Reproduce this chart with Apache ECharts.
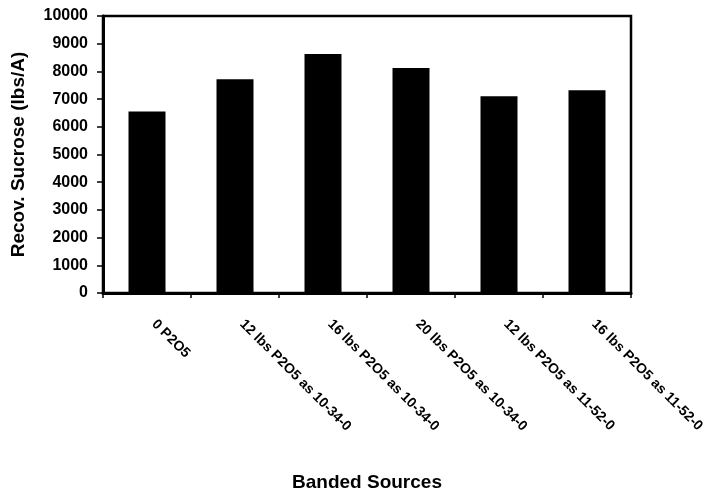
<!DOCTYPE html>
<html>
<head>
<meta charset="utf-8">
<script src="https://cdn.jsdelivr.net/npm/echarts@6/dist/echarts.min.js"></script>
<style>
  html, body { margin: 0; padding: 0; background: #fff; }
  #chart { width: 709px; height: 497px; }
</style>
</head>
<body>
<div id="chart"></div>
<script>
// Banded phosphorus sources and recoverable sucrose yield
var categories = [
  '0 P2O5',
  '12 lbs P2O5 as 10-34-0',
  '16 lbs P2O5 as 10-34-0',
  '20 lbs P2O5 as 10-34-0',
  '12 lbs P2O5 as 11-52-0',
  '16 lbs P2O5 as 11-52-0'
];
var sucrose = [6550, 7720, 8630, 8120, 7100, 7320];
var yTicks = [0, 1000, 2000, 3000, 4000, 5000, 6000, 7000, 8000, 9000, 10000];

var FONT = 'Liberation Sans, Arial, sans-serif';

var chart = echarts.init(document.getElementById('chart'), null, { renderer: 'canvas' });
chart.setOption({
  animation: false,
  backgroundColor: '#ffffff',
  grid: {
    left: 103, right: 78, top: 16, bottom: 204,
    outerBoundsMode: 'none',
    show: true, borderColor: '#000', borderWidth: 2.5, backgroundColor: 'transparent'
  },
  xAxis: {
    type: 'category',
    data: categories,
    name: 'Banded Sources',
    nameLocation: 'middle',
    nameGap: 180,
    nameTextStyle: { fontFamily: FONT, fontWeight: 'bold', fontSize: 19, color: '#000' },
    axisLine: { lineStyle: { color: '#000', width: 3 } },
    axisTick: { show: true, length: 5, lineStyle: { color: '#000', width: 1.5 } },
    axisLabel: {
      rotate: -45, interval: 0, margin: 22, padding: [0, 0, 0, 10],
      fontFamily: FONT, fontWeight: 'bold', fontSize: 14, color: '#000'
    }
  },
  yAxis: {
    type: 'value',
    min: yTicks[0], max: yTicks[yTicks.length - 1], interval: 1000,
    name: 'Recov. Sucrose (lbs/A)',
    nameLocation: 'middle',
    nameGap: 75,
    nameTextStyle: { fontFamily: FONT, fontWeight: 'bold', fontSize: 19, color: '#000' },
    axisLine: { show: true, lineStyle: { color: '#000', width: 3 } },
    axisTick: { show: true, length: 6, lineStyle: { color: '#000', width: 1.5 } },
    splitLine: { show: false },
    axisLabel: {
      margin: 15, fontFamily: FONT, fontWeight: 'bold', fontSize: 16, color: '#000',
      formatter: function (v) { return String(v); }
    }
  },
  series: [{
    type: 'bar',
    data: sucrose,
    barWidth: 37,
    itemStyle: { color: '#000' }
  }]
});
</script>
</body>
</html>
